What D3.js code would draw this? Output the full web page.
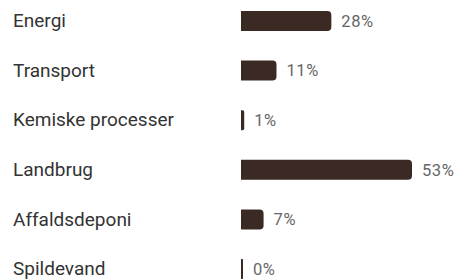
<!DOCTYPE html>
<html>
<head>
<meta charset="utf-8">
<script src="https://cdn.jsdelivr.net/npm/d3@7"></script>
<style>
  body { margin: 0; background: #fff; }
  #chart text { font-family: Roboto, "Noto Sans", sans-serif; }
</style>
</head>
<body>
<div id="chart"></div>
<script>
const categories = ['Energi', 'Transport', 'Kemiske processer', 'Landbrug', 'Affaldsdeponi', 'Spildevand'];
const values = [28, 11, 1, 53, 7, 0];

const width = 462;
const height = 280;
const barStart = 241;
const barH = 20;

const svg = d3.select('#chart')
  .append('svg')
  .attr('width', width)
  .attr('height', height);

const x = d3.scaleLinear().domain([0, 53]).range([0, 171]);
const y = d3.scalePoint().domain(categories).range([21, 269]);

// bar with rounded right end only
const barPath = (w, h, r) => {
  r = Math.min(r, w / 2, h / 2);
  return `M0,0 H${w - r} Q${w},0 ${w},${r} V${h - r} Q${w},${h} ${w - r},${h} H0 Z`;
};

const rows = svg.selectAll('.row')
  .data(categories.map((c, i) => ({ cat: c, val: values[i] })))
  .enter().append('g')
  .attr('class', 'row')
  .attr('transform', d => `translate(0, ${y(d.cat)})`);

rows.append('text')
  .attr('x', 13)
  .attr('dy', '0.33em')
  .style('font-size', '19px')
  .style('fill', '#333')
  .text(d => d.cat);

rows.append('path')
  .attr('transform', `translate(${barStart}, ${-barH / 2})`)
  .attr('d', d => barPath(Math.max(2, x(d.val)), barH, 4))
  .attr('fill', '#3b2a23');

rows.append('text')
  .attr('x', d => barStart + Math.max(2, x(d.val)) + 10)
  .attr('dy', '0.35em')
  .style('font-size', '16.5px')
  .style('letter-spacing', '0.6px')
  .style('fill', '#666')
  .text(d => d.val + '%');
</script>
</body>
</html>
